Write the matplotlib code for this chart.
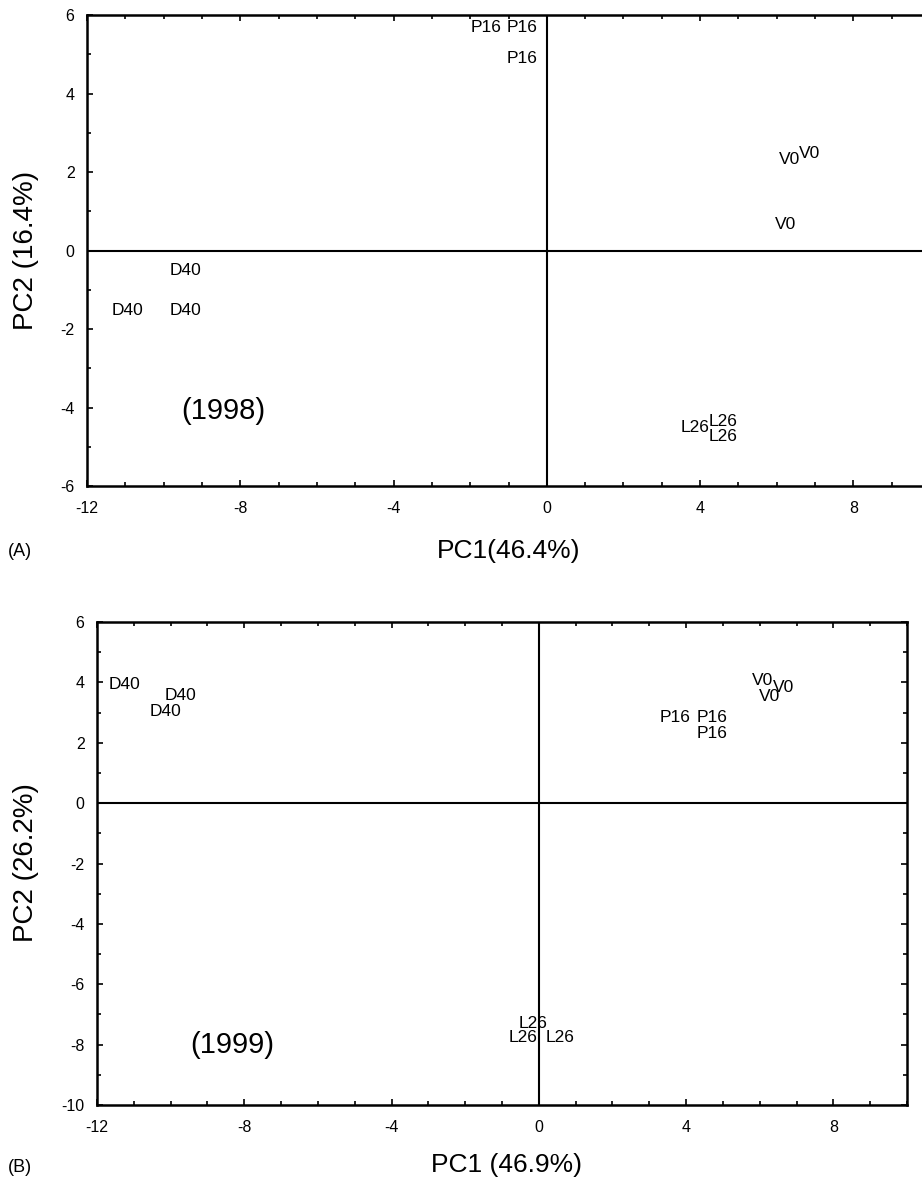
import numpy as np
import matplotlib.pyplot as plt
from matplotlib.ticker import MultipleLocator

plt.rcParams["font.family"] = ["Liberation Sans", "DejaVu Sans"]
plt.rcParams["axes.unicode_minus"] = False

# 1998 scores (left edge of each label, PC1 / PC2)
labels_98 = ["P16", "P16", "P16", "V0", "V0", "V0", "D40", "D40", "D40", "L26", "L26", "L26"]
pc1_98 = [-2.0, -1.04, -1.04, 6.05, 6.57, 5.95, -9.84, -11.35, -9.84, 3.5, 4.23, 4.23]
pc2_98 = [5.67, 5.67, 4.88, 2.31, 2.48, 0.65, -0.52, -1.54, -1.54, -4.52, -4.35, -4.73]

# 1999 scores
labels_99 = ["D40", "D40", "D40", "P16", "P16", "P16", "V0", "V0", "V0", "L26", "L26", "L26"]
pc1_99 = [-11.68, -10.16, -10.57, 3.28, 4.28, 4.28, 5.8, 6.37, 5.99, -0.54, -0.81, 0.19]
pc2_99 = [3.94, 3.58, 3.05, 2.85, 2.85, 2.29, 4.07, 3.84, 3.54, -7.29, -7.78, -7.78]

W, H = 922, 1188
fig = plt.figure(figsize=(W / 100, H / 100), dpi=100)

ax1 = fig.add_axes([87 / W, 1 - 486 / H, (930 - 87) / W, (486 - 15) / H])
ax2 = fig.add_axes([97 / W, 1 - 1105 / H, (907 - 97) / W, (1105 - 622) / H])


def style(ax, ylim):
    ax.set_xlim(-12, 10)
    ax.set_ylim(*ylim)
    ax.xaxis.set_major_locator(MultipleLocator(4))
    ax.xaxis.set_minor_locator(MultipleLocator(1))
    ax.yaxis.set_major_locator(MultipleLocator(2))
    ax.yaxis.set_minor_locator(MultipleLocator(1))
    ax.tick_params(which="both", direction="in", top=True, right=True,
                   labelsize=11.5, width=1.2)
    ax.tick_params(which="major", length=4.5)
    ax.tick_params(which="minor", length=3)
    ax.tick_params(axis="x", pad=11)
    ax.tick_params(axis="y", pad=9)
    for s in ax.spines.values():
        s.set_linewidth(1.8)
    ax.axhline(0, color="black", lw=1.5)
    ax.axvline(0, color="black", lw=1.5)


style(ax1, (-6, 6))
style(ax2, (-10, 6))

for t, x, y in zip(labels_98, pc1_98, pc2_98):
    ax1.text(x, y, t, ha="left", va="center", fontsize=12.5)
for t, x, y in zip(labels_99, pc1_99, pc2_99):
    ax2.text(x, y, t, ha="left", va="center", fontsize=12.5)

ax1.text(-8.45, -4.1, "(1998)", ha="center", va="center", fontsize=21)
ax2.text(-8.32, -8.0, "(1999)", ha="center", va="center", fontsize=21)

fig.text(26 / W, 1 - 250 / H, "PC2 (16.4%)", rotation=90, ha="center", va="center", fontsize=20)
fig.text(26 / W, 1 - 863 / H, "PC2 (26.2%)", rotation=90, ha="center", va="center", fontsize=20)
fig.text(509 / W, 1 - 551 / H, "PC1(46.4%)", ha="center", va="center", fontsize=19)
fig.text(506 / W, 1 - 1165 / H, "PC1 (46.9%)", ha="center", va="center", fontsize=19)
fig.text(8 / W, 1 - 551 / H, "(A)", ha="left", va="center", fontsize=13)
fig.text(8 / W, 1 - 1167 / H, "(B)", ha="left", va="center", fontsize=13)

fig.savefig("out.png", dpi=100)
